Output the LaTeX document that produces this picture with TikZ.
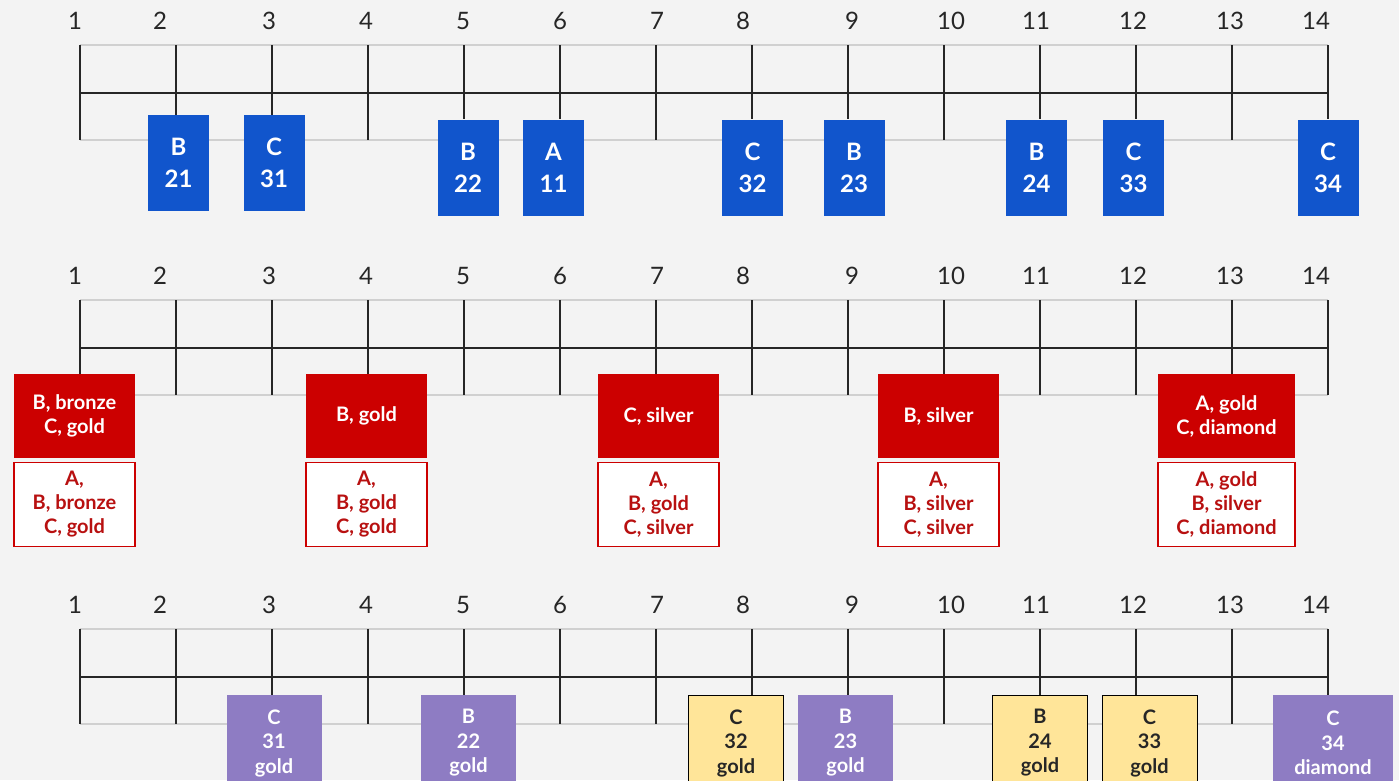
\documentclass[tikz,border=0pt]{standalone}
\usepackage{fontspec}
\setmainfont{Lato}
\definecolor{pagebg}{HTML}{F3F3F3}
\definecolor{railgray}{HTML}{D0D0D0}
\definecolor{dropblue}{HTML}{1155CC}
\definecolor{stockred}{HTML}{CC0000}
\definecolor{notered}{HTML}{B81010}
\definecolor{tierpurple}{HTML}{8E7CC3}
\definecolor{tieryellow}{HTML}{FFE599}

\begin{document}
\begin{tikzpicture}[x=1pt, y=-1pt,
    rail/.style={railgray, line width=2pt},
    tickline/.style={black!85, line width=2pt},
    daynum/.style={font=\fontsize{24}{28}\selectfont, text=black!85},
    drop/.style={fill=dropblue, text=white, font=\bfseries\fontsize{24}{32}\selectfont,
        align=center, minimum width=61pt, minimum height=96pt, inner sep=0pt},
    stock/.style={fill=stockred, text=white, font=\bfseries\fontsize{20}{24}\selectfont,
        align=center, minimum width=121pt, minimum height=84pt, inner sep=0pt},
    tally/.style={fill=white, draw=stockred, line width=1.5pt, text=notered,
        font=\bfseries\fontsize{20}{24}\selectfont,
        align=center, minimum width=121pt, minimum height=84pt, inner sep=0pt},
    tier/.style={font=\bfseries\fontsize{20}{24.5}\selectfont, align=center,
        minimum width=95pt, minimum height=96pt, inner sep=0pt},
    goldtier/.style={tier, fill=tieryellow, draw=black, line width=1pt, text=black!85},
    plaintier/.style={tier, fill=tierpurple, text=white}]

    \useasboundingbox (0,0) rectangle (1399,780);
    \fill[pagebg] (0,0) rectangle (1399,780);

    % three timelines
    \foreach \row/\ty in {a/45, b/300, c/629} {
        \draw[rail] (80,\ty) -- (1328,\ty);
        \draw[rail] (80,\ty+95) -- (1328,\ty+95);
        \draw[tickline] (80,\ty+48) -- (1328,\ty+48);
        \foreach \i/\lx in {1/75, 2/160, 3/269, 4/366, 5/463, 6/560, 7/657,
                8/743, 9/852, 10/951, 11/1036, 12/1133, 13/1230, 14/1316} {
            \coordinate (\row-t\i) at ({80+96*(\i-1)}, \ty);
            \node[daynum] (\row-num\i) at (\lx, \ty-24) {\i};
        }
    }

    % top row: drops
    \node[drop] (dropB21) at (178.5,163) {B\\21};
    \node[drop] (dropC31) at (274,163) {C\\31};
    \node[drop] (dropB22) at (468,167.5) {B\\22};
    \node[drop] (dropA11) at (553.5,167.5) {A\\11};
    \node[drop] (dropC32) at (752.5,167.5) {C\\32};
    \node[drop] (dropB23) at (854,167.5) {B\\23};
    \node[drop] (dropB24) at (1036.5,167.5) {B\\24};
    \node[drop] (dropC33) at (1133.5,167.5) {C\\33};
    \node[drop] (dropC34) at (1328,167.5) {C\\34};

    \foreach \i in {1,4,7,10,13}
        \draw[tickline] (a-t\i) -- ++(0,95);
    \foreach \i/\b in {2/dropB21, 3/dropC31, 5/dropB22, 6/dropA11, 8/dropC32,
            9/dropB23, 11/dropB24, 12/dropC33, 14/dropC34}
        \draw[tickline] (a-t\i) -- (a-t\i |- \b.north);

    % middle row: stock and tally
    \node[stock] (stock1) at (74.5,416) {B, bronze\\C, gold};
    \node[stock] (stock4) at (366.5,416) {B, gold};
    \node[stock] (stock7) at (658.5,416) {C, silver};
    \node[stock] (stock10) at (938.5,416) {B, silver};
    \node[stock, minimum width=137pt] (stock13) at (1226.5,416) {A, gold\\C, diamond};

    \node[tally] (tally1) at (74.5,504.5) {A,\\B, bronze\\C, gold};
    \node[tally] (tally4) at (366.5,504.5) {A,\\B, gold\\C, gold};
    \node[tally] (tally7) at (658.5,504.5) {A,\\B, gold\\C, silver};
    \node[tally] (tally10) at (938.5,504.5) {A,\\B, silver\\C, silver};
    \node[tally, minimum width=137pt] (tally13) at (1226.5,504.5) {A, gold\\B, silver\\C, diamond};

    \foreach \i in {2,3,5,6,8,9,11,12,14}
        \draw[tickline] (b-t\i) -- ++(0,95);
    \foreach \i in {1,4,7,10,13}
        \draw[tickline] (b-t\i) -- (b-t\i |- stock\i.north);

    % bottom row: tiers
    \node[plaintier] (tierC31) at (274,743) {C\\31\\gold};
    \node[plaintier] (tierB22) at (468.5,743) {B\\22\\gold};
    \node[goldtier] (tierC32) at (736,743) {C\\32\\gold};
    \node[plaintier] (tierB23) at (845.5,743) {B\\23\\gold};
    \node[goldtier] (tierB24) at (1040,743) {B\\24\\gold};
    \node[goldtier] (tierC33) at (1149.5,743) {C\\33\\gold};
    \node[plaintier, minimum width=120pt] (tierC34) at (1333,743) {C\\34\\diamond};

    \foreach \i in {1,2,4,6,7,10,13}
        \draw[tickline] (c-t\i) -- ++(0,95);
    \foreach \i/\b in {3/tierC31, 5/tierB22, 8/tierC32, 9/tierB23, 11/tierB24,
            12/tierC33, 14/tierC34}
        \draw[tickline] (c-t\i) -- (c-t\i |- \b.north);
\end{tikzpicture}
\end{document}
